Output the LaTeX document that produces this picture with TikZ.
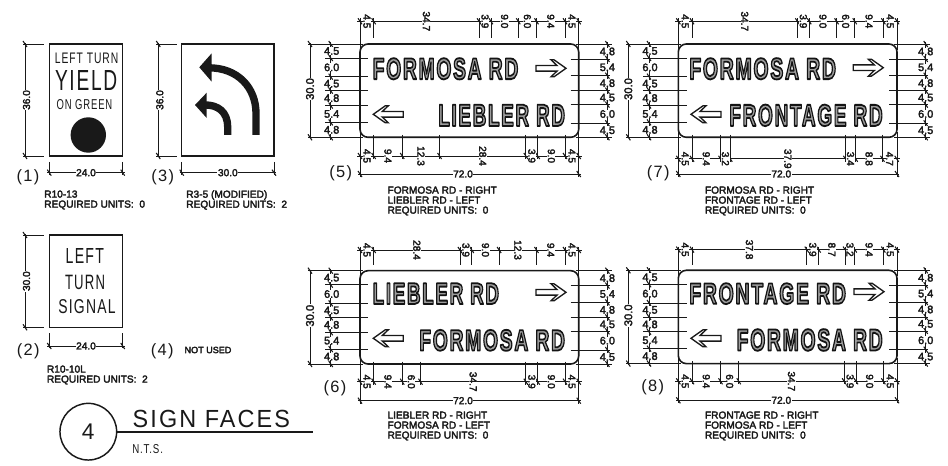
\documentclass[tikz,border=0pt]{standalone}
\usepackage{fontspec}
\usepackage{graphicx}
\setmainfont{Liberation Sans}
\newfontfamily\boldfam[LetterSpace=9]{Liberation Sans Bold}
\newfontfamily\spacedfam[LetterSpace=9]{Liberation Sans}
\newfontfamily\parfam[LetterSpace=8]{Liberation Sans}
\definecolor{ink}{gray}{0.1}
\newcommand\semi[1]{\special{pdf:code q 2 Tr 0.22 w 1 j}#1\special{pdf:code Q}}
\tikzset{
  dim/.style={draw=ink,line width=0.6pt},
  heavy/.style={draw=ink,line width=1pt},
  numlab/.style={font=\fontsize{7.6}{7.6}\selectfont,text=ink,fill=white,inner sep=0.4pt},
  caption/.style={font=\fontsize{7.6}{7.5}\selectfont,text=ink,align=left,anchor=west,inner sep=0},
  big/.style={font=\parfam\fontsize{12.3}{13}\selectfont,text=ink,inner sep=0},
  wide/.style={text=ink,inner sep=0}
}
\newcommand\tk[2]{\draw[draw=ink,line width=0.8pt] ({#1-2},{#2-3}) -- ({#1+2},{#2+3});}
% stretched text between two corners
\newcommand\fit[6]{\pgfmathsetmacro\fw{(#4-#2)*0.75}\pgfmathsetmacro\fh{(#5-#3)*0.75}%
  \node[wide,name=#1] at ({(#2+#4)/2},{(#3+#5)/2}) {\resizebox{\fw pt}{\fh pt}{#6}};}
\newcommand\thin[1]{{\spacedfam #1}}
\newcommand\hollow[1]{{\boldfam\special{pdf:code q 2 Tr 0.6 w 1 j 0.62 g 0.08 G}#1\special{pdf:code Q}}}
\newcommand\signtext[6]{\fit{#1}{#2}{#3}{#4}{#5}{\hollow{#6}}}
\newcommand\openarrow[3]{% tail/tip x-left end, y centre, direction
  \begin{scope}[shift={(#1,#2)},xscale=#3]
    \draw[heavy,fill=white] (0,-2.8) -- (21,-2.8) -- (15,-8.5) -- (18,-8.5) -- (30,0) -- (18,8.5) -- (15,8.5) -- (21,2.8) -- (0,2.8) -- cycle;
  \end{scope}}
% id, ox, oy, top-dimension offset, top list, bottom list, bottom-dimension offset
\newcommand\bigsign[7]{%
\begin{scope}[shift={(#2,#3)}]
  \draw[draw=ink,line width=1.2pt,rounded corners=6pt] (0,0) rectangle (218.7,93.3);
  % top chain
  \draw[dim] (-3,#4) -- (221.7,#4);
  \draw[dim] (0,#4-3) -- (0,6);
  \tk{0}{#4}
  \gdef\acc{0}
  \foreach \v [count=\i] in {#5} {
    \pgfmathsetmacro\nx{\acc+\v*3.0375}
    \pgfmathsetmacro\nm{\acc+\v*1.51875}
    \ifnum\i=7 \pgfmathsetmacro\ny{6}\else\pgfmathsetmacro\ny{-5.7}\fi
    \draw[dim] (\nx,#4-3) -- (\nx,\ny);
    \tk{\nx}{#4}
    \node[numlab,rotate=-90,name=#1t\i] at (\nm,#4) {\semi{\v}};
    \global\let\acc\nx
  }
  % bottom chain
  \draw[dim] (-3,93.3+#7) -- (221.7,93.3+#7);
  \draw[dim] (0,88) -- (0,133);
  \draw[dim] (218.7,88) -- (218.7,133);
  \tk{0}{93.3+#7}
  \gdef\acc{0}
  \foreach \v [count=\i] in {#6} {
    \pgfmathsetmacro\nx{\acc+\v*3.0375}
    \pgfmathsetmacro\nm{\acc+\v*1.51875}
    \ifnum\i<7 \draw[dim] (\nx,91) -- (\nx,93.3+#7+3);\fi
    \tk{\nx}{93.3+#7}
    \node[numlab,rotate=-90,name=#1b\i] at (\nm,93.3+#7) {\semi{\v}};
    \global\let\acc\nx
  }
  % overall width
  \draw[dim] (-2,130) -- (220.7,130);
  \tk{0}{130} \tk{218.7}{130}
  \node[numlab,name=#1w] at (103,130) {\semi{72.0}};
  % overall height
  \draw[dim] (-50,-1) -- (-50,94.3);
  \tk{-50}{0} \tk{-50}{93.3}
  \draw[dim] (-52,0) -- (3,0);
  \draw[dim] (-52,93.3) -- (3,93.3);
  \node[numlab,rotate=90,name=#1h,font=\fontsize{8.4}{8.4}\selectfont] at (-50,45) {\semi{30.0}};
  % left chain
  \draw[dim] (-29.3,-2) -- (-29.3,96);
  \tk{-29.3}{0}
  \gdef\acc{0}
  \foreach \v [count=\i] in {4.5,6.0,4.5,4.8,5.4,4.8} {
    \pgfmathsetmacro\ny{\acc+\v*3.11}
    \pgfmathsetmacro\nm{\acc+\v*1.555}
    \ifnum\i<6 \draw[dim] (-35,\ny) -- (8.3,\ny);\fi
    \tk{-29.3}{\ny}
    \node[numlab,font=\fontsize{8.2}{8.2}\selectfont,inner sep=0,name=#1l\i] at (-28.3,\nm) {\semi{\v}};
    \global\let\acc\ny
  }
  % right chain
  \draw[dim] (247.4,-2) -- (247.4,96);
  \draw[dim] (215.7,0) -- (252,0);
  \draw[dim] (215.7,93.3) -- (252,93.3);
  \tk{247.4}{0}
  \gdef\acc{0}
  \foreach \v [count=\i] in {4.8,5.4,4.8,4.5,6.0,4.5} {
    \pgfmathsetmacro\ny{\acc+\v*3.11}
    \pgfmathsetmacro\nm{\acc+\v*1.555}
    \ifnum\i<6 \draw[dim] (210.7,\ny) -- (249.7,\ny);\fi
    \tk{247.4}{\ny}
    \node[numlab,font=\fontsize{8.2}{8.2}\selectfont,inner sep=0,name=#1r\i] at (247.4,\nm) {\semi{\v}};
    \global\let\acc\ny
  }
\end{scope}}
\newcommand\smallsign[9]{% id, x1, y1, x2, y2, dim x, height label, width label, label y for dim
  \draw[draw=ink,line width=1.1pt] (#2,#3) rectangle (#4,#5);
  \draw[dim] (#6-2,#3) -- (#2-5,#3);
  \draw[dim] (#6-2,#5) -- (#2-5,#5);
  \draw[dim] (#6,#3-1) -- (#6,#5+1);
  \tk{#6}{#3} \tk{#6}{#5}
  \node[numlab,rotate=90,name=#1h] at (#6+1.5,{(#3+#5)/2}) {\semi{#7}};
  \draw[dim] (#2,#5+6) -- (#2,#9+2);
  \draw[dim] (#4,#5+6) -- (#4,#9+2);
  \draw[dim] (#2-2,#9) -- (#4+2,#9);
  \tk{#2}{#9} \tk{#4}{#9}
  \node[numlab,name=#1w] at ({(#2+#4)/2},#9) {\semi{#8}};
}
\begin{document}
\begin{tikzpicture}[x=0.75pt,y=-0.75pt]
\useasboundingbox (0,0) rectangle (948,466);
\fill[white] (0,0) rectangle (948,466);

% --- small signs
\smallsign{a}{49.3}{44}{122.7}{156}{25}{36.0}{24.0}{172.7}
\fit{a1}{55}{53.5}{118.3}{64}{\thin{LEFT TURN}}
\fit{a2}{55}{70.7}{117.3}{90.7}{\thin{YIELD}}
\fit{a3}{56.7}{99.3}{112.3}{109.3}{\thin{ON GREEN}}
\fill[ink] (88.3,135) circle [radius=17.7];
\node[big,name=n1] at (28,177) {(1)};
\node[caption,name=c1] at (44,200) {\semi{R10-13\\REQUIRED UNITS:~~0}};

\smallsign{b}{181.7}{44}{274}{156}{158.3}{36.0}{30.0}{172.7}
\draw[ink,line width=5.5pt] (256,135) -- (256,113.3) .. controls (256,88) and (238,67.5) .. (208,67.8);
\fill[ink] (199.3,67.3) -- (211.7,53.3) -- (211.7,81.7) -- cycle;
\draw[ink,line width=5.5pt] (227.7,135) -- (227.7,127) .. controls (227.7,112) and (218,104.5) .. (204,105);
\fill[ink] (195,105) -- (206.7,92.7) -- (206.7,118) -- cycle;
\node[big,name=n3] at (162.7,177) {(3)};
\node[caption,name=c3] at (186,200) {\semi{R3-5 (MODIFIED)\\REQUIRED UNITS:~~2}};

\smallsign{c}{49.3}{235}{122.7}{327.3}{25}{30.0}{24.0}{346}
\fit{c1}{65.7}{248.3}{104}{263.3}{\thin{LEFT}}
\fit{c2}{65}{275}{105}{289.3}{\thin{TURN}}
\fit{c3}{58.3}{300}{115.7}{314}{\thin{SIGNAL}}
\node[big,name=n2] at (28.3,351.7) {(2)};
\node[caption,name=c2] at (46.7,375) {\semi{R10-10L\\REQUIRED UNITS:~~2}};
\node[big,name=n4] at (162.3,351.7) {(4)};
\node[font=\fontsize{6.8}{7}\selectfont,text=ink,inner sep=0,anchor=west,name=c4] at (184.3,350) {\semi{NOT USED}};

% --- title
\node[circle,draw=ink,line width=1.1pt,minimum size=42.5pt,inner sep=0,name=tcirc,font=\fontsize{17}{17}\selectfont,text=ink] at (88.3,431.7) {4};
\fit{t1}{132.7}{410}{290}{427.3}{\thin{SIGN FACES}}
\draw[draw=ink,line width=1.4pt] (tcirc.east) -- (313,431.7);
\fit{t2}{132.3}{445}{163}{454}{\thin{N.T.S.}}

% --- large signs
\bigsign{e}{360}{44}{-22.7}{4.5,34.7,3.9,9.0,6.0,9.4,4.5}{4.5,9.4,12.3,28.4,3.9,9.0,4.5}{18.7}
\signtext{e1}{372.7}{58.3}{518.3}{79.3}{FORMOSA RD}
\signtext{e2}{438.3}{104.7}{565}{126}{LIEBLER RD}
\openarrow{536}{68.3}{1}
\openarrow{403.3}{114.3}{-1}
\node[big,name=n5] at (340.7,173.3) {(5)};
\node[caption,name=c5] at (387.3,201) {\semi{FORMOSA RD - RIGHT\\LIEBLER RD - LEFT\\REQUIRED UNITS:~~0}};

\bigsign{g}{678.3}{44}{-22.7}{4.5,34.7,3.9,9.0,6.0,9.4,4.5}{4.5,9.4,3.2,37.9,3.4,8.8,4.7}{21.5}
\signtext{g1}{689.3}{58.3}{836}{79.3}{FORMOSA RD}
\signtext{g2}{729.3}{104.7}{882.7}{126}{FRONTAGE RD}
\openarrow{853.3}{67.7}{1}
\openarrow{721}{114.3}{-1}
\node[big,name=n7] at (658.3,173) {(7)};
\node[caption,name=c7] at (704.7,201) {\semi{FORMOSA RD - RIGHT\\FRONTAGE RD - LEFT\\REQUIRED UNITS:~~0}};

\bigsign{f}{360}{270.7}{-20.7}{4.5,28.4,3.9,9.0,12.3,9.4,4.5}{4.5,9.4,6.0,34.7,3.9,9.0,4.5}{17.7}
\signtext{f1}{372.7}{283.3}{499}{304}{LIEBLER RD}
\signtext{f2}{419.3}{330}{565}{350.7}{FORMOSA RD}
\openarrow{536}{292.3}{1}
\openarrow{403.3}{338.3}{-1}
\node[big,name=n6] at (335,388.3) {(6)};
\node[caption,name=c6] at (387.3,426) {\semi{LIEBLER RD - RIGHT\\FORMOSA RD - LEFT\\REQUIRED UNITS:~~0}};

\bigsign{h}{678.3}{270.3}{-20.7}{4.5,37.8,3.9,8.7,3.2,9.4,4.5}{4.5,9.4,6.0,34.7,3.9,9.0,4.5}{17.7}
\signtext{h1}{689.3}{283.3}{846}{304}{FRONTAGE RD}
\signtext{h2}{736.7}{329.3}{882.7}{350.7}{FORMOSA RD}
\openarrow{854}{291.7}{1}
\openarrow{721}{338.3}{-1}
\node[big,name=n8] at (652.7,387.7) {(8)};
\node[caption,name=c8] at (704.7,426) {\semi{FRONTAGE RD - RIGHT\\FORMOSA RD - LEFT\\REQUIRED UNITS:~~0}};
\end{tikzpicture}
\end{document}
